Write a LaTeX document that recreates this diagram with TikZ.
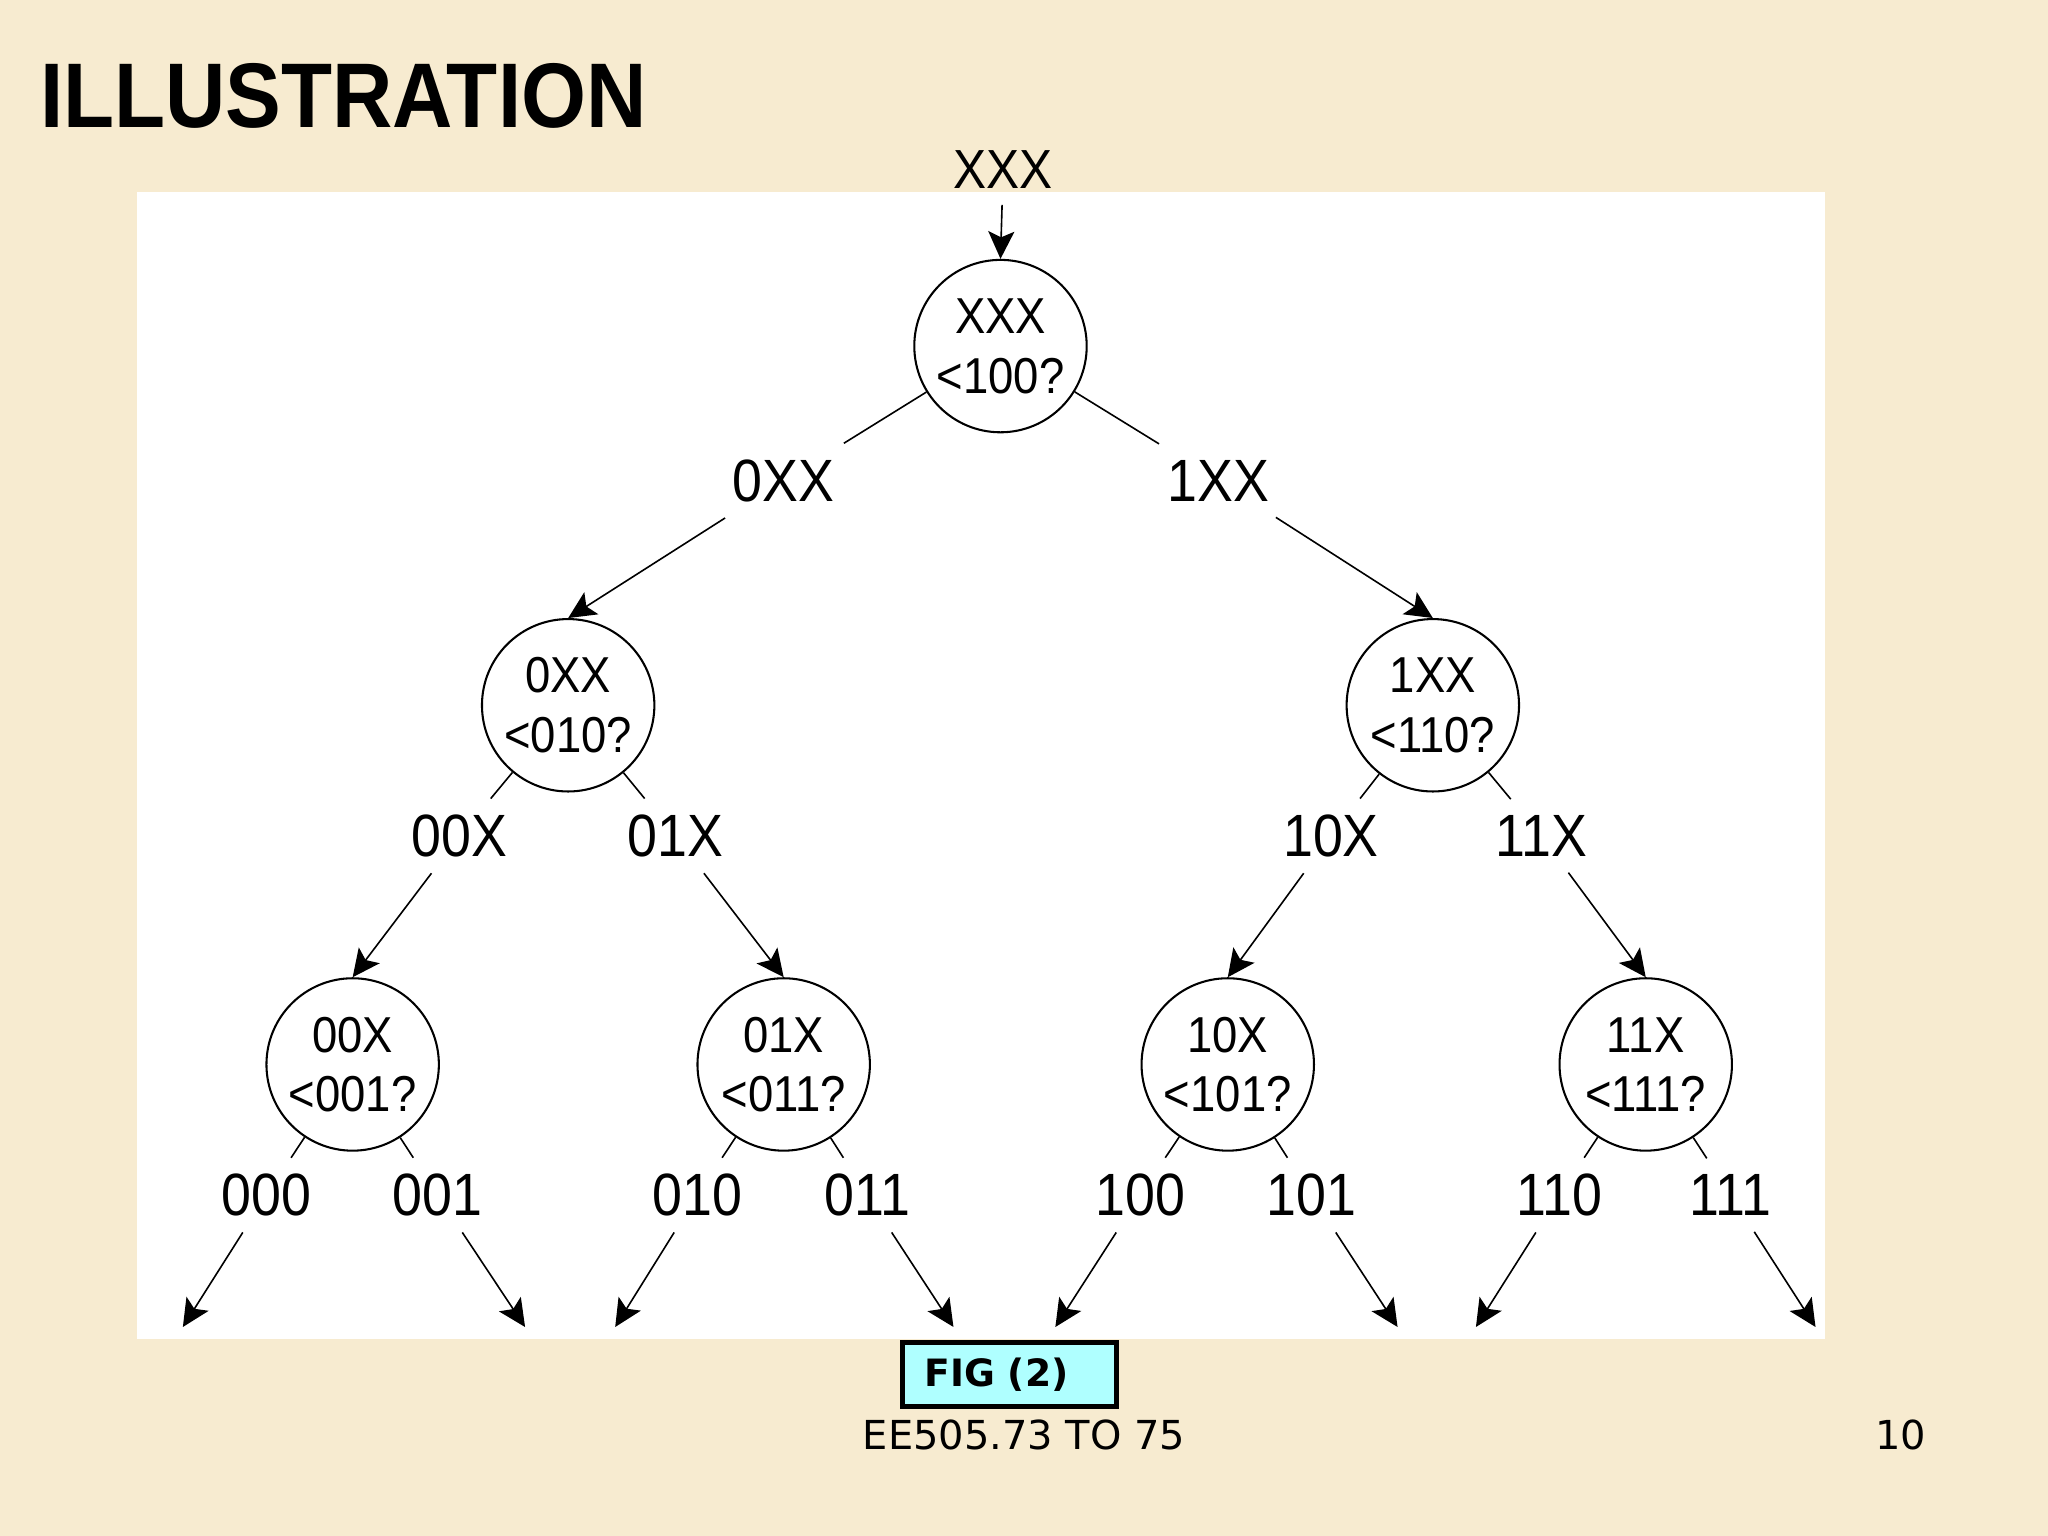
\documentclass[tikz,border=0pt]{standalone}
\usepackage{fontspec}
\usetikzlibrary{arrows.meta}
\newfontfamily\treefont[FakeStretch=0.9]{Liberation Sans}
\newfontfamily\titlefont[FakeStretch=0.91]{Liberation Sans}
\newfontfamily\slidefont{DejaVu Sans}
\definecolor{paper}{RGB}{247,235,208}
\definecolor{figcyan}{RGB}{175,255,255}
\begin{document}
\begin{tikzpicture}[
  test/.style={draw,circle,line width=0.45pt,minimum size=1.32cm,inner sep=0pt,align=center,
    font=\treefont\fontsize{11}{13}\selectfont},
  lab/.style={font=\treefont\fontsize{13}{15}\selectfont},
  arr/.style={-{Stealth[length=2.1mm,width=2mm,inset=0.45mm]},line width=0.35pt},
  stub/.style={line width=0.35pt}
]
% page and panel
\fill[paper] (0,0) rectangle (15.68,11.76);
\useasboundingbox (0,0) rectangle (15.68,11.76);
\fill[white] (1.05,1.51) rectangle (13.97,10.29);
\node[anchor=base west,inner sep=0pt,font=\titlefont\bfseries\fontsize{20}{24}\selectfont] (title) at (0.30,10.78) {ILLUSTRATION};

% root
\node[lab,font=\treefont\fontsize{12}{14}\selectfont] (top) at (7.68,10.46) {XXX};
\node[test] (r) at (7.66,9.11) {XXX\\<100?};
\draw[arr] (top) edge (r.north);

% first level
\node[lab] (l0) at (6.00,8.08) {0XX};
\node[lab] (l1) at (9.33,8.08) {1XX};
\node[test] (c0) at (4.35,6.36) {0XX\\<010?};
\node[test] (c1) at (10.97,6.36) {1XX\\<110?};
\draw[stub] (r) edge (l0);
\draw[stub] (r) edge (l1);
\draw[arr] (l0) edge (c0.north);
\draw[arr] (l1) edge (c1.north);

% second level
\node[lab] (l00) at (3.52,5.36) {00X};
\node[lab] (l01) at (5.17,5.36) {01X};
\node[lab] (l10) at (10.19,5.36) {10X};
\node[lab] (l11) at (11.80,5.36) {11X};
\node[test] (c00) at (2.70,3.61) {00X\\<001?};
\node[test] (c01) at (6.00,3.61) {01X\\<011?};
\node[test] (c10) at (9.40,3.61) {10X\\<101?};
\node[test] (c11) at (12.60,3.61) {11X\\<111?};
\draw[stub] (c0) edge (l00);
\draw[stub] (c0) edge (l01);
\draw[stub] (c1) edge (l10);
\draw[stub] (c1) edge (l11);
\draw[arr] (l00) edge (c00.north);
\draw[arr] (l01) edge (c01.north);
\draw[arr] (l10) edge (c10.north);
\draw[arr] (l11) edge (c11.north);

% leaves
\node[lab] (l000) at (2.04,2.61) {000};
\node[lab] (l001) at (3.35,2.61) {001};
\node[lab] (l010) at (5.34,2.61) {010};
\node[lab] (l011) at (6.64,2.61) {011};
\node[lab] (l100) at (8.73,2.61) {100};
\node[lab] (l101) at (10.04,2.61) {101};
\node[lab] (l110) at (11.94,2.61) {110};
\node[lab] (l111) at (13.25,2.61) {111};
\draw[stub] (c00) edge (l000);
\draw[stub] (c00) edge (l001);
\draw[stub] (c01) edge (l010);
\draw[stub] (c01) edge (l011);
\draw[stub] (c10) edge (l100);
\draw[stub] (c10) edge (l101);
\draw[stub] (c11) edge (l110);
\draw[stub] (c11) edge (l111);
\coordinate (e000) at (1.40,1.60);
\coordinate (e001) at (4.02,1.60);
\coordinate (e010) at (4.71,1.60);
\coordinate (e011) at (7.30,1.60);
\coordinate (e100) at (8.08,1.60);
\coordinate (e101) at (10.70,1.60);
\coordinate (e110) at (11.30,1.60);
\coordinate (e111) at (13.90,1.60);
\draw[arr] (l000) edge (e000);
\draw[arr] (l001) edge (e001);
\draw[arr] (l010) edge (e010);
\draw[arr] (l011) edge (e011);
\draw[arr] (l100) edge (e100);
\draw[arr] (l101) edge (e101);
\draw[arr] (l110) edge (e110);
\draw[arr] (l111) edge (e111);

% footer
\node[draw,line width=1pt,fill=figcyan,minimum height=0.47cm,text width=1.30cm,inner xsep=0.17cm,
  align=left,font=\slidefont\bfseries\fontsize{8.2}{10}\selectfont] (fig) at (7.73,1.235) {FIG (2)};
\node[font=\slidefont\fontsize{8.7}{10}\selectfont] (ref) at (7.84,0.77) {EE505.73 TO 75};
\node[font=\slidefont\fontsize{8.7}{10}\selectfont] (page) at (14.55,0.77) {10};
\end{tikzpicture}
\end{document}
